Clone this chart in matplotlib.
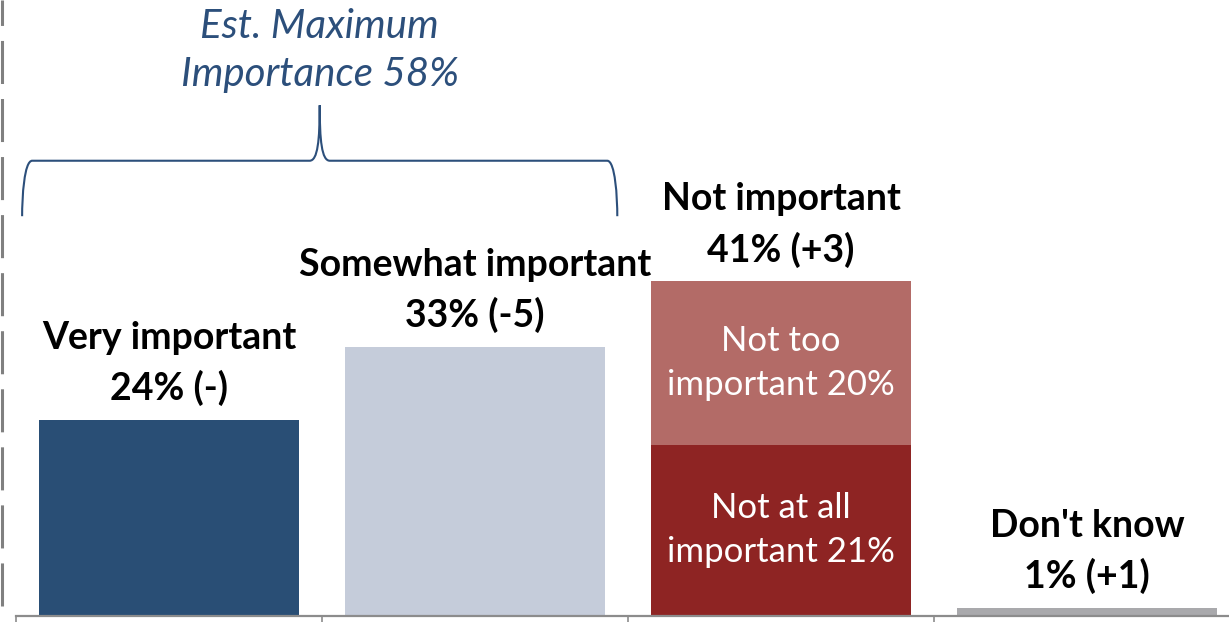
#!/usr/bin/env python3
"""Importance of the issue: bar chart with a stacked 'Not important' column."""

import matplotlib
matplotlib.use("Agg")
import matplotlib.pyplot as plt
import matplotlib.patches as mpatches
from matplotlib.path import Path
from matplotlib.lines import Line2D

# --- Data ---
categories = ["Very important", "Somewhat important", "Not important", "Don't know"]
values = [24, 33, 41, 1]
changes = ["-", "-5", "+3", "+1"]
bar_colors = ["#294e75", "#c5ccda", None, "#a9a9ac"]

# stacked pieces of 'Not important' (bottom -> top)
parts = [21, 20]
part_labels = ["Not at all\nimportant", "Not too\nimportant"]
part_colors = ["#8e2423", "#b36b67"]

est_max = 58  # Very + Somewhat (rounded)

plt.rcParams["font.family"] = ["Lato", "DejaVu Sans"]

fig = plt.figure(figsize=(12.29, 6.22), dpi=100)
ax = fig.add_axes([16 / 1229, 6 / 622, 1224 / 1229, 616 / 622])

x = list(range(len(categories)))
width = 0.85

for i, (cat, val, chg) in enumerate(zip(categories, values, changes)):
    if i == 2:
        bottom = 0
        for p, lab, col in zip(parts, part_labels, part_colors):
            ax.bar(i, p, width=width, bottom=bottom, color=col, zorder=2)
            ax.text(i, bottom + p / 2, f"{lab} {p}%", ha="center", va="center",
                    color="white", fontsize=25, linespacing=1.45, zorder=3)
            bottom += p
    else:
        ax.bar(i, val, width=width, color=bar_colors[i], zorder=2)
    ax.annotate(f"{cat}\n{val}% ({chg})", xy=(i, val), xytext=(0, 10),
                textcoords="offset points", ha="center", va="bottom",
                fontsize=27, fontweight="bold", color="black", linespacing=1.5)

ax.set_xlim(-0.5, len(categories) - 0.5)
ax.set_ylim(0, 75.5)

# --- Brace over the first two bars ---
bx0, bx1 = -0.48, 1.465
bxc = (bx0 + bx1) / 2
y_end, y_mid, y_tip = 49.0, 55.8, 62.6
rx, ry = 0.033, 4.5
verts = [
    (bx0, y_end),
    (bx0, y_mid - ry), (bx0 + rx * 0.2, y_mid), (bx0 + rx, y_mid),
    (bxc - rx, y_mid),
    (bxc - rx * 0.2, y_mid), (bxc, y_mid + 2.5), (bxc, y_tip),
    (bxc, y_mid + 2.5), (bxc + rx * 0.2, y_mid), (bxc + rx, y_mid),
    (bx1 - rx, y_mid),
    (bx1 - rx * 0.2, y_mid), (bx1, y_mid - ry), (bx1, y_end),
]
codes = [Path.MOVETO,
         Path.CURVE4, Path.CURVE4, Path.CURVE4,
         Path.LINETO,
         Path.CURVE4, Path.CURVE4, Path.CURVE4,
         Path.CURVE4, Path.CURVE4, Path.CURVE4,
         Path.LINETO,
         Path.CURVE4, Path.CURVE4, Path.CURVE4]
ax.add_patch(mpatches.PathPatch(Path(verts, codes), facecolor="none",
                                edgecolor="#2c4f7b", linewidth=1.5, zorder=4))
ax.text(bxc, 69.3, f"Est. Maximum\nImportance {est_max}%", ha="center",
        va="center", fontsize=29, style="italic", color="#2c4f7b",
        linespacing=1.38)

# --- Axes styling ---
for side in ["top", "right", "left"]:
    ax.spines[side].set_visible(False)
ax.spines["bottom"].set_color("#8c8c8c")
ax.spines["bottom"].set_linewidth(1.6)
ax.set_xticks([k - 0.5 for k in range(len(categories) + 1)])
ax.set_xticklabels([])
ax.tick_params(axis="x", direction="out", length=5, width=1.2, color="#8c8c8c")
ax.set_yticks([])

# dashed vertical line at the far left edge
plt.rcParams["lines.scale_dashes"] = False
fig.add_artist(Line2D([1.5 / 1229, 1.5 / 1229], [16 / 622, 1.0],
                      transform=fig.transFigure, color="#808080",
                      linewidth=2.2, linestyle=(0, (31, 10.8))))

fig.savefig("out.png", dpi=100)
